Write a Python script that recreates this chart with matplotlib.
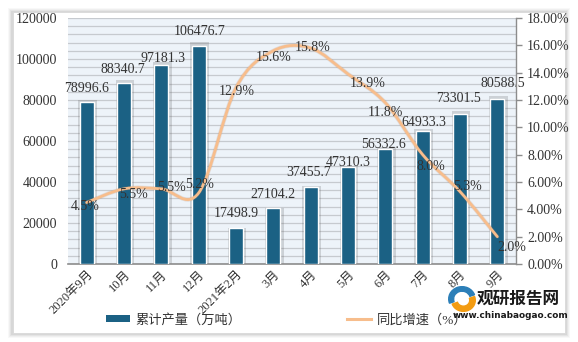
import numpy as np
import matplotlib
matplotlib.use('Agg')
import matplotlib.pyplot as plt
from matplotlib.path import Path
from matplotlib.patches import PathPatch, Rectangle, Wedge
from matplotlib.lines import Line2D

plt.rcParams['font.family'] = ['Liberation Serif', 'Noto Sans CJK SC']
plt.rcParams['axes.unicode_minus'] = False

months = ['2020年9月', '10月', '11月', '12月', '2021年2月', '3月', '4月',
          '5月', '6月', '7月', '8月', '9月']
output = [78996.6, 88340.7, 97181.3, 106476.7, 17498.9, 27104.2, 37455.7,
          47310.3, 56332.6, 64933.3, 73301.5, 80588.5]
growth = [4.5, 5.5, 5.5, 5.2, 12.9, 15.6, 15.8, 13.9, 11.8, 8.0, 5.3, 2.0]
bar_name = '累计产量（万吨）'
line_name = '同比增速（%）'

# label nudges in pixels (dx, dy), dy positive = up
bar_lbl_dy = [14, 13, 6, 14, 15, 14, 15, 5, 4.5, 8, 15, 15]
bar_lbl_dx = [0, -1, 2, 1, 0, 0, -2, 0, -2, 1, -1, 5]
line_lbl_off = [(-1, -4), (10, -6), (10, 1), (1, 8), (1, -4), (0, -7),
                (2, 1), (20, -9), (0, -10), (8, -12), (8, 5), (14, -11)]

W, H = 578, 342
fig = plt.figure(figsize=(W / 100, H / 100), dpi=100)
fig.patch.set_facecolor('white')

# panel with soft shadow
for i, a in enumerate([0.05, 0.07, 0.09, 0.12]):
    d = 4 - i
    fig.patches.append(Rectangle(((12 - d) / W, 1 - (334 + d) / H),
                                 (554 + 2 * d) / W, (322 + 2 * d) / H,
                                 transform=fig.transFigure, facecolor='#7a7a7a',
                                 alpha=a, edgecolor='none', zorder=-3))
fig.patches.append(Rectangle((13 / W, 1 - 333 / H), 552 / W, 321 / H,
                             transform=fig.transFigure, facecolor='white',
                             edgecolor='#d8d8d8', lw=0.6, zorder=-2))

ax = fig.add_axes([68 / W, 1 - 264 / H, (516 - 68) / W, 246 / H])
ax.set_facecolor('#edf3f9')
x = np.arange(len(months))

ax.set_ylim(0, 120000)
ax.set_xlim(-0.5, len(months) - 0.5)
ax.set_yticks(np.arange(0, 120001, 20000))
ax.set_yticks(np.arange(0, 120001, 4000), minor=True)
ax.grid(True, axis='y', which='both', color='#c6cacf', lw=0.9)
ax.set_axisbelow(True)
ax.tick_params(axis='y', which='both', length=0, pad=8, labelsize=10, colors='#333333')
ax.tick_params(axis='x', length=0, pad=3, labelsize=9, colors='#333333')
ax.set_xticks(x)
ax.set_xticklabels(months, rotation=45, ha='right', va='top', rotation_mode='anchor')
for s in ['top', 'left', 'right']:
    ax.spines[s].set_visible(False)
ax.spines['bottom'].set_color('#8c8c8c')
ax.spines['bottom'].set_linewidth(1.2)

# bar shadows then bars
ax.bar(x + 0.03, np.array(output) * 1.015, width=0.5, color='#5a5a5a', alpha=0.22,
       edgecolor='none', zorder=2)
bars = ax.bar(x, output, width=0.38, color='#1b6184', edgecolor='white', lw=1.0,
              zorder=3, label=bar_name)

for xi, v, dy, dx in zip(x, output, bar_lbl_dy, bar_lbl_dx):
    ax.annotate(f'{v:.1f}', (xi, v), xytext=(dx * 0.72, dy * 0.72),
                textcoords='offset points', ha='center', va='center',
                fontsize=10, color='#333333', zorder=6)

ax2 = ax.twinx()
ax2.set_ylim(0, 18)
ax2.set_yticks(np.arange(0, 18.01, 2))
ax2.set_yticklabels([f'{t:.2f}%' for t in np.arange(0, 18.01, 2)])
ax2.tick_params(axis='y', length=4, width=1, color='#8c8c8c', pad=4,
                labelsize=10, labelcolor='#333333')
for s in ['top', 'left', 'bottom']:
    ax2.spines[s].set_visible(False)
ax2.spines['right'].set_color('#8c8c8c')
ax2.spines['right'].set_linewidth(1.0)

# smooth curve through the points (cubic Bezier segments)
px = x.astype(float)
py = np.array(growth, dtype=float)
n = len(px)
verts = [(px[0], py[0])]
codes = [Path.MOVETO]
for i in range(n - 1):
    p0 = np.array([px[max(i - 1, 0)], py[max(i - 1, 0)]])
    p1 = np.array([px[i], py[i]])
    p2 = np.array([px[i + 1], py[i + 1]])
    p3 = np.array([px[min(i + 2, n - 1)], py[min(i + 2, n - 1)]])
    c1 = p1 + (p2 - p0) / 6
    c2 = p2 - (p3 - p1) / 6
    verts += [tuple(c1), tuple(c2), tuple(p2)]
    codes += [Path.CURVE4] * 3
curve = Path(verts, codes)
ax2.add_patch(PathPatch(curve, facecolor='none', edgecolor='#b08060', lw=3.0,
                        alpha=0.2, zorder=3, capstyle='round'))
ax2.add_patch(PathPatch(curve, facecolor='none', edgecolor='#f7bd8c', lw=2.0,
                        zorder=4, capstyle='round'))

for xi, v, (dx, dy) in zip(x, growth, line_lbl_off):
    ax2.annotate(f'{v:.1f}%', (xi, v), xytext=(dx * 0.72, dy * 0.72),
                 textcoords='offset points', ha='center', va='center',
                 fontsize=10, color='#333333', zorder=6)

handles = [Rectangle((0, 0), 1, 1, facecolor='#1b6184', edgecolor='none'),
           Line2D([0], [0], color='#f7bd8c', lw=2.2)]
fig.legend(handles, [bar_name, line_name], loc='center', ncol=2,
           bbox_to_anchor=(0.496, 1 - 320 / H), frameon=False, fontsize=9.5,
           handlelength=1.8, handleheight=0.5, handletextpad=0.45,
           columnspacing=8, labelcolor='#333333')

# watermark logo
fig.text(518 / W, 1 - 299 / H, '观研报告网', fontsize=12, fontweight='bold',
         family=['Noto Sans CJK SC'], ha='center', va='center', color='#1a1a1a')
fig.text(511 / W, 1 - 315 / H, 'www.chinabaogao.com', fontsize=6.4,
         fontweight='bold', family=['DejaVu Sans'], ha='center', va='center',
         color='#1a1a1a')
lax = fig.add_axes([448 / W, 1 - 312 / H, 28 / W, 26 / H])
lax.set_xlim(-1, 1)
lax.set_ylim(-1, 1)
lax.axis('off')
lax.add_patch(Wedge((0, 0), 0.95, 20, 200, width=0.35, color='#2c7fb8'))
lax.add_patch(Wedge((0.1, -0.1), 0.85, 200, 380, width=0.4, color='#f39c12'))

fig.savefig('out.png', dpi=100, facecolor=fig.get_facecolor())
